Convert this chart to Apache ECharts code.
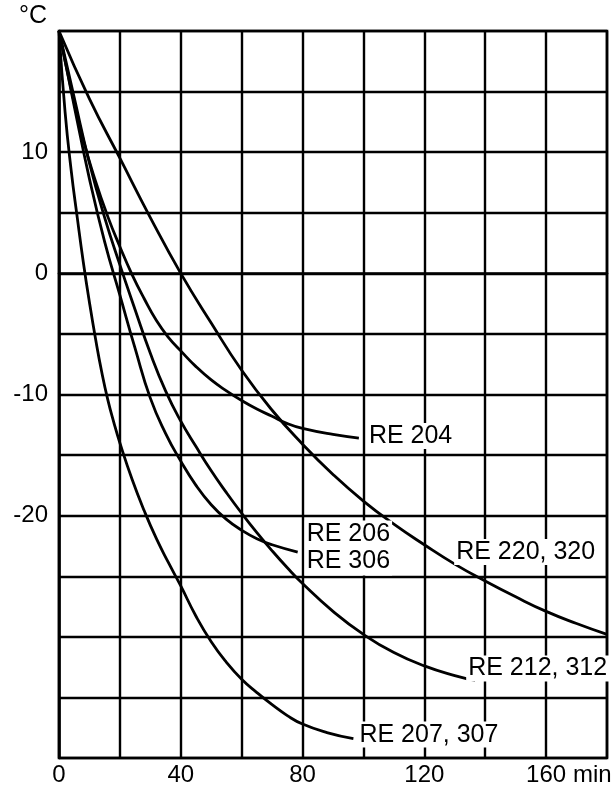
<!DOCTYPE html>
<html>
<head>
<meta charset="utf-8">
<script src="https://cdn.jsdelivr.net/npm/echarts@6/dist/echarts.min.js"></script>
<style>
  html, body { margin: 0; padding: 0; background: #fff; }
  #main { width: 613px; height: 796px; }
</style>
</head>
<body>
<div id="main"></div>
<script>
// cooling curves, [minutes, °C]
const re220 = [[0, 20], [10, 14.4], [20, 9.5], [30, 4.6], [40, 0], [50, -4.1], [60, -8], [70, -11.3],
  [80, -14.1], [90, -16.6], [100, -18.8], [110, -20.7], [120, -22.4], [130, -24], [140, -25.4],
  [150, -26.7], [160, -27.9], [170, -28.9], [180, -29.8]];
const re204 = [[0, 20], [4, 15.2], [8, 11], [12, 7.6], [16, 4.7], [20, 2.2], [24, -0.1], [28, -2.1],
  [32, -3.9], [36, -5.3], [40, -6.4], [45, -7.7], [50, -8.8], [55, -9.7], [60, -10.5], [65, -11.2],
  [70, -11.8], [75, -12.4], [80, -12.8], [90, -13.3], [98.5, -13.6]];
const re206 = [[0, 20], [5, 13.8], [10, 7.8], [15, 2.6], [20, -1.8], [25, -6.2], [30, -10.3], [35, -13.2],
  [40, -15.5], [45, -17.5], [50, -19.1], [55, -20.3], [60, -21.2], [65, -21.9], [70, -22.4], [78.4, -23]];
const re212 = [[0, 20], [5, 14.5], [10, 9.1], [15, 4.6], [20, 0.7], [25, -3], [30, -6.6], [35, -9.7],
  [40, -12.2], [45, -14.3], [50, -16.3], [55, -18.1], [60, -19.8], [65, -21.4], [70, -22.9], [75, -24.3],
  [80, -25.6], [90, -27.9], [100, -29.8], [110, -31.3], [120, -32.4], [130, -33.2], [136.7, -33.6]];
const re207 = [[0, 20], [2, 13.3], [4, 8.5], [6, 4.6], [8, 0.9], [10, -2.4], [12, -5.4], [14, -8.1],
  [16, -10.4], [18, -12.3], [20, -14], [24, -17], [28, -19.6], [32, -21.9], [36, -23.9], [40, -25.8],
  [45, -28.3], [50, -30.4], [55, -32.1], [60, -33.5], [65, -34.6], [70, -35.6], [75, -36.5], [80, -37.2],
  [88, -37.9], [96.7, -38.4]];

const xTickLabels = ['0', '40', '80', '120', '160'];
const yTickLabels = ['10', '0', '-10', '-20'];

const FONT = '"Liberation Sans", Arial, sans-serif';

const chart = echarts.init(document.getElementById('main'));

// label next to the end of a curve, dx/dy in pixels
function endLabel(data, text, dx, dy, lh) {
  return {
    symbol: 'circle',
    symbolSize: 0,
    silent: true,
    data: [{
      coord: data[data.length - 1],
      label: {
        show: true,
        position: 'right',
        distance: 0,
        offset: [dx, dy],
        formatter: text,
        color: '#000',
        fontFamily: FONT,
        fontSize: 25,
        lineHeight: lh || 25,
        backgroundColor: '#fff',
        padding: [1, 2, 0, 2]
      }
    }]
  };
}

function curve(name, data, markPoint) {
  return {
    name: name,
    type: 'line',
    data: data,
    showSymbol: false,
    smooth: 0.5,
    lineStyle: { color: '#000', width: 2.8 },
    z: 3,
    markPoint: markPoint
  };
}

const option = {
  animation: false,
  backgroundColor: '#fff',
  grid: {
    left: 59, right: 6, top: 31, bottom: 38,
    show: true, borderColor: '#000', borderWidth: 2.6, backgroundColor: 'transparent'
  },
  xAxis: {
    type: 'value',
    min: 0, max: 180, interval: 20,
    axisLine: { show: true, lineStyle: { color: '#000', width: 2.6 } },
    axisTick: { show: false },
    splitLine: { show: true, lineStyle: { color: '#000', width: 2.4 } },
    axisLabel: {
      margin: 5,
      color: '#000',
      fontFamily: FONT,
      fontSize: 24,
      formatter: v => xTickLabels.includes(String(v)) ? String(v) : ''
    }
  },
  yAxis: {
    type: 'value',
    min: -40, max: 20, interval: 5,
    axisLine: { show: true, lineStyle: { color: '#000', width: 2.6 } },
    axisTick: { show: false },
    splitLine: { show: true, lineStyle: { color: '#000', width: 2.4 } },
    axisLabel: {
      margin: 11,
      color: '#000',
      fontFamily: FONT,
      fontSize: 24,
      formatter: v => yTickLabels.includes(String(v)) ? String(v) : ''
    }
  },
  graphic: [
    { type: 'text', left: 19, top: 4, style: { text: '°C', font: '25px ' + FONT, fill: '#000' } },
    { type: 'text', left: 573, top: 763, style: { text: 'min', font: '24px ' + FONT, fill: '#000' } }
  ],
  series: [
    curve('RE 220, 320', re220, {
      symbol: 'circle', symbolSize: 0, silent: true,
      data: [{
        coord: [129.8, -23],
        label: {
          show: true, position: 'right', distance: 0, formatter: 'RE 220, 320',
          color: '#000', fontFamily: FONT, fontSize: 25, lineHeight: 25,
          backgroundColor: '#fff', padding: [1, 2, 0, 2]
        }
      }]
    }),
    curve('RE 204', re204, endLabel(re204, 'RE 204', 8, -2)),
    curve('RE 206, 306', re206, endLabel(re206, 'RE 206\nRE 306', 7, -4, 27)),
    curve('RE 212, 312', re212, endLabel(re212, 'RE 212, 312', -9, -12)),
    curve('RE 207, 307', re207, endLabel(re207, 'RE 207, 307', 4, -4))
  ]
};

chart.setOption(option);
</script>
</body>
</html>
